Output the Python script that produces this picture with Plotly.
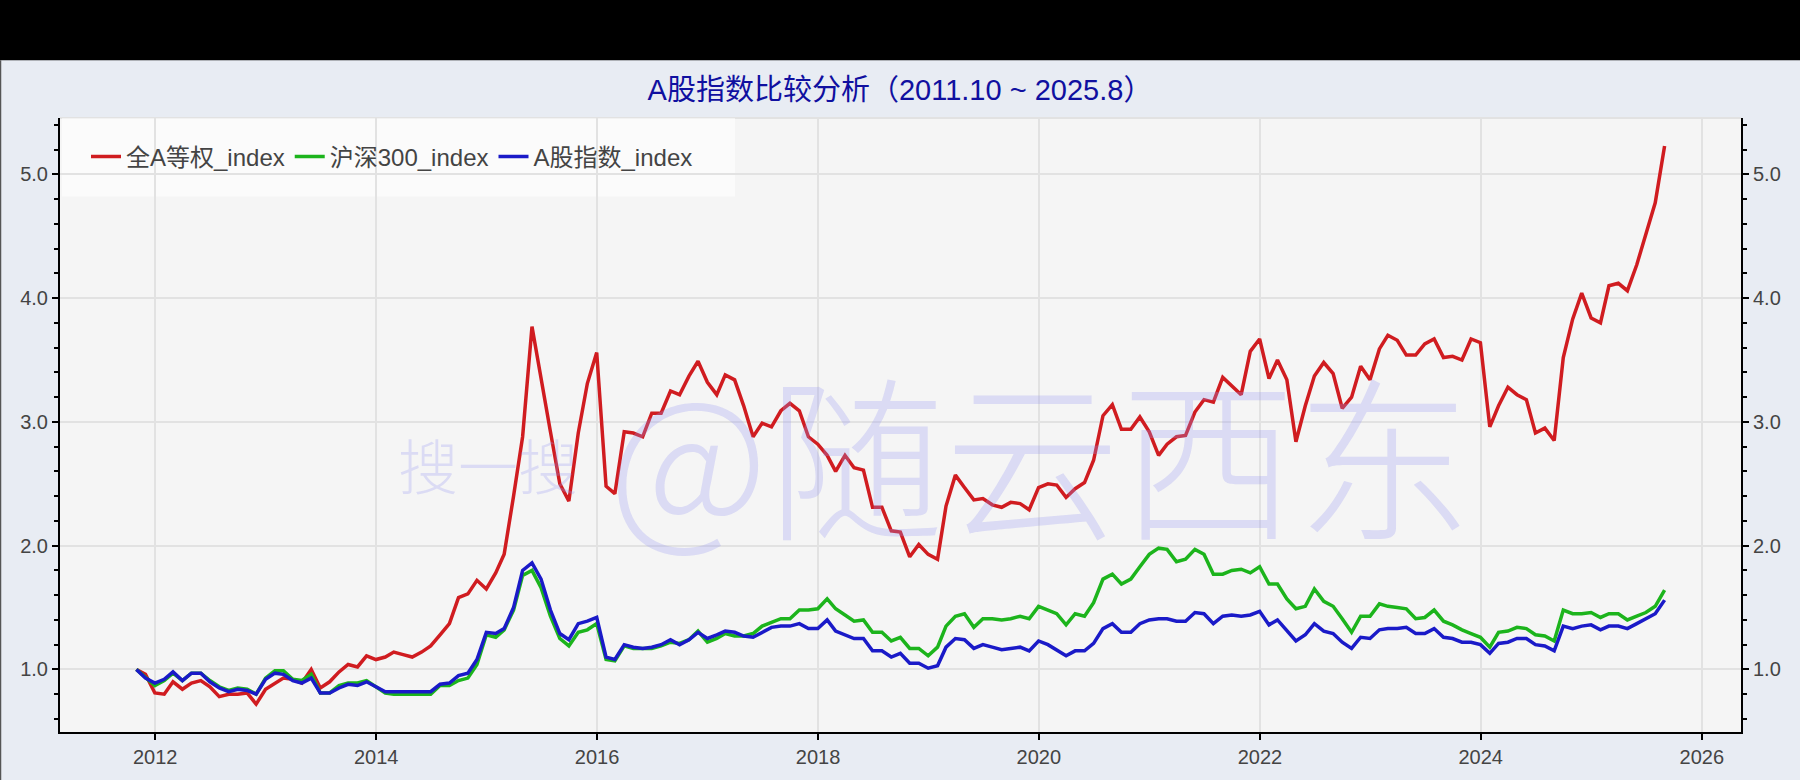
import pandas as pd
import plotly.graph_objects as go

# ---------------- data (monthly, 2011-10 .. 2025-08, normalised to 1.0) ----------------
start_month = "2011-10-31"
series_names = ["全A等权_index", "沪深300_index", "A股指数_index"]

quan_a = [
    1.00, 0.96, 0.81, 0.80, 0.90, 0.84, 0.89, 0.91, 0.86, 0.78, 0.80, 0.80,
    0.81, 0.72, 0.84, 0.89, 0.93, 0.92, 0.89, 1.00, 0.85, 0.90, 0.98, 1.04,
    1.02, 1.11, 1.08, 1.10, 1.14, 1.12, 1.10, 1.14, 1.19, 1.28, 1.37, 1.58,
    1.61, 1.72, 1.65, 1.78, 1.93, 2.40, 2.88, 3.77, 3.34, 2.92, 2.50, 2.36,
    2.91, 3.31, 3.56, 2.48, 2.42, 2.92, 2.91, 2.88, 3.07, 3.07, 3.25, 3.22,
    3.37, 3.49, 3.32, 3.22, 3.38, 3.34, 3.13, 2.88, 2.99, 2.96, 3.09, 3.15,
    3.09, 2.88, 2.82, 2.73, 2.60, 2.73, 2.63, 2.61, 2.31, 2.31, 2.12, 2.11,
    1.91, 2.01, 1.93, 1.89, 2.32, 2.57, 2.47, 2.37, 2.38, 2.33, 2.31, 2.35,
    2.34, 2.29, 2.47, 2.50, 2.49, 2.39, 2.46, 2.51, 2.69, 3.05, 3.14, 2.94,
    2.94, 3.04, 2.92, 2.73, 2.82, 2.88, 2.89, 3.08, 3.18, 3.16, 3.36, 3.29,
    3.22, 3.57, 3.67, 3.35, 3.50, 3.34, 2.84, 3.13, 3.37, 3.48, 3.39, 3.11,
    3.20, 3.45, 3.34, 3.59, 3.70, 3.66, 3.54, 3.54, 3.63, 3.67, 3.52, 3.53,
    3.50, 3.67, 3.64, 2.96, 3.13, 3.28, 3.22, 3.18, 2.91, 2.95, 2.85, 3.52,
    3.83, 4.04, 3.84, 3.80, 4.10, 4.12, 4.06, 4.27, 4.52, 4.77, 5.23,
]

hs300 = [
    1.00, 0.94, 0.87, 0.91, 0.97, 0.91, 0.97, 0.97, 0.91, 0.86, 0.83, 0.85,
    0.84, 0.80, 0.93, 0.99, 0.99, 0.92, 0.91, 0.96, 0.81, 0.81, 0.87, 0.89,
    0.89, 0.91, 0.86, 0.81, 0.80, 0.80, 0.80, 0.80, 0.80, 0.87, 0.87, 0.91,
    0.93, 1.04, 1.28, 1.26, 1.32, 1.48, 1.76, 1.80, 1.66, 1.43, 1.25, 1.19,
    1.30, 1.32, 1.37, 1.08, 1.07, 1.19, 1.17, 1.17, 1.17, 1.19, 1.22, 1.21,
    1.24, 1.31, 1.22, 1.25, 1.29, 1.27, 1.27, 1.29, 1.35, 1.38, 1.41, 1.41,
    1.48, 1.48, 1.49, 1.57, 1.49, 1.44, 1.39, 1.40, 1.30, 1.30, 1.23, 1.26,
    1.17, 1.17, 1.11, 1.18, 1.35, 1.43, 1.45, 1.34, 1.41, 1.41, 1.40, 1.41,
    1.43, 1.41, 1.51, 1.48, 1.45, 1.36, 1.45, 1.43, 1.54, 1.73, 1.77, 1.69,
    1.73, 1.83, 1.93, 1.98, 1.97, 1.87, 1.89, 1.97, 1.93, 1.77, 1.77, 1.80,
    1.81, 1.78, 1.83, 1.69, 1.69, 1.57, 1.49, 1.51, 1.65, 1.55, 1.51, 1.41,
    1.30, 1.43, 1.43, 1.53, 1.51, 1.50, 1.49, 1.41, 1.42, 1.48, 1.39, 1.36,
    1.32, 1.29, 1.26, 1.18, 1.30, 1.31, 1.34, 1.33, 1.28, 1.27, 1.23, 1.48,
    1.45, 1.45, 1.46, 1.42, 1.45, 1.45, 1.40, 1.43, 1.46, 1.51, 1.64,
]

a_share = [
    1.00, 0.93, 0.89, 0.92, 0.98, 0.91, 0.97, 0.97, 0.90, 0.85, 0.82, 0.84,
    0.83, 0.80, 0.92, 0.97, 0.96, 0.91, 0.89, 0.93, 0.81, 0.81, 0.85, 0.88,
    0.87, 0.90, 0.86, 0.82, 0.82, 0.82, 0.82, 0.82, 0.82, 0.88, 0.89, 0.95,
    0.97, 1.08, 1.30, 1.29, 1.33, 1.50, 1.80, 1.86, 1.73, 1.48, 1.29, 1.24,
    1.37, 1.39, 1.42, 1.10, 1.08, 1.20, 1.18, 1.17, 1.18, 1.20, 1.24, 1.20,
    1.24, 1.30, 1.25, 1.28, 1.31, 1.30, 1.27, 1.26, 1.30, 1.34, 1.35, 1.35,
    1.37, 1.33, 1.33, 1.40, 1.31, 1.28, 1.25, 1.25, 1.15, 1.15, 1.10, 1.13,
    1.05, 1.05, 1.01, 1.03, 1.18, 1.25, 1.24, 1.17, 1.20, 1.18, 1.16, 1.17,
    1.18, 1.15, 1.23, 1.20, 1.16, 1.11, 1.15, 1.15, 1.21, 1.33, 1.37, 1.30,
    1.30, 1.37, 1.40, 1.41, 1.41, 1.39, 1.39, 1.46, 1.45, 1.37, 1.43, 1.44,
    1.43, 1.44, 1.47, 1.36, 1.40, 1.31, 1.23, 1.28, 1.37, 1.31, 1.29, 1.22,
    1.17, 1.26, 1.25, 1.32, 1.33, 1.33, 1.34, 1.29, 1.29, 1.33, 1.26, 1.25,
    1.22, 1.22, 1.20, 1.13, 1.21, 1.22, 1.25, 1.25, 1.20, 1.19, 1.15, 1.35,
    1.33, 1.35, 1.36, 1.32, 1.35, 1.35, 1.33, 1.37, 1.41, 1.45, 1.56,
]

y_ticks = [1.0, 2.0, 3.0, 4.0, 5.0]
title_text = "A股指数比较分析（2011.10 ~ 2025.8）"
watermark_small = "搜一搜"
watermark_big = "@随云西东"

# ---------------- figure ----------------
try:
    dates = pd.date_range(start_month, periods=len(quan_a), freq="ME")
except ValueError:
    dates = pd.date_range(start_month, periods=len(quan_a), freq="M")

colors = ["#d01c20", "#1cb41c", "#1a1ac8"]
FONT = "Liberation Sans, Arial, Noto Sans CJK SC, sans-serif"

fig = go.Figure()
for name, vals, col in zip(series_names, [quan_a, hs300, a_share], colors):
    fig.add_trace(go.Scatter(x=dates, y=vals, mode="lines", name=name,
                             line=dict(color=col, width=3.5)))
# invisible trace to activate the right-hand axis
fig.add_trace(go.Scatter(x=dates, y=quan_a, mode="lines", yaxis="y2",
                         showlegend=False, hoverinfo="skip",
                         line=dict(color="rgba(0,0,0,0)", width=0)))

# ranges with 5% padding on each side
t0, t1 = dates[0], dates[-1]
span = t1 - t0
x_range = [t0 - span * 0.05, t1 + span * 0.05]
all_vals = quan_a + hs300 + a_share
vmin, vmax = min(all_vals), max(all_vals)
vpad = (vmax - vmin) * 0.05
y_range = [vmin - vpad, vmax + vpad]

W, H = 1800, 780
L, R, T, B = 60, 59, 118, 45
pw, ph = W - L - R, H - T - B


def px_x(p):
    return (p - L) / pw


def px_y(p):
    return 1 - (p - T) / ph


yaxis_common = dict(
    range=y_range, tickvals=y_ticks, tickformat=".1f",
    ticks="outside", ticklen=6, tickwidth=1.5, tickcolor="black",
    showline=True, linecolor="black", linewidth=2,
    tickfont=dict(family=FONT, size=20, color="#444444"),
    minor=dict(dtick=0.2, tick0=0, ticks="outside", ticklen=4,
               tickcolor="black", tickwidth=1.5, showgrid=False),
    zeroline=False,
)

fig.update_layout(
    width=W, height=H,
    margin=dict(l=L, r=R, t=T, b=B),
    paper_bgcolor="#e8ecf3",
    plot_bgcolor="#f5f5f5",
    title=dict(text=title_text, x=0.5, xanchor="center",
               y=1 - 90 / H, yanchor="middle",
               font=dict(family=FONT, size=29, color="#1010a0")),
    xaxis=dict(
        range=x_range, type="date", dtick="M24", tick0="2012-01-01",
        tickformat="%Y", ticks="outside", ticklen=6, tickwidth=1.5,
        tickcolor="black", showline=True, linecolor="black", linewidth=2,
        showgrid=True, gridcolor="#e2e2e2", gridwidth=1.5,
        tickfont=dict(family=FONT, size=20, color="#444444"),
        zeroline=False,
    ),
    yaxis=dict(showgrid=True, gridcolor="#e2e2e2", gridwidth=1.5, side="left",
               **yaxis_common),
    yaxis2=dict(overlaying="y", side="right", showgrid=False, **yaxis_common),
    legend=dict(orientation="h", x=px_x(86), xanchor="left",
                y=px_y(157), yanchor="middle",
                bgcolor="rgba(0,0,0,0)",
                font=dict(family=FONT, size=24, color="#444444"),
                itemwidth=30, tracegroupgap=0),
    showlegend=True,
)

shapes = [
    # black band across the top of the page
    dict(type="rect", xref="paper", yref="paper", x0=px_x(-20), x1=px_x(W + 20),
         y0=px_y(60), y1=px_y(-20), fillcolor="black", line=dict(width=0),
         layer="above"),
    # thin page frame on the left
    dict(type="line", xref="paper", yref="paper", x0=px_x(0.5), x1=px_x(0.5),
         y0=px_y(60), y1=px_y(H + 5), line=dict(color="#555555", width=1.5),
         layer="above"),
    # light plot outline on top
    dict(type="line", xref="paper", yref="paper", x0=0, x1=1, y0=1, y1=1,
         line=dict(color="#e2e2e2", width=2), layer="between"),
    # legend box
    dict(type="rect", xref="paper", yref="paper", x0=px_x(62), x1=px_x(735),
         y0=px_y(197), y1=1, fillcolor="rgba(255,255,255,0.55)",
         line=dict(width=0), layer="between"),
]
fig.update_layout(shapes=shapes)

wm_color = "rgba(150,150,240,0.28)"
fig.add_annotation(text=watermark_small, xref="paper", yref="paper",
                   x=px_x(488), y=px_y(465), xanchor="center", yanchor="middle",
                   showarrow=False,
                   font=dict(family="Noto Sans CJK SC", size=60, color=wm_color,
                             weight=300))
fig.add_annotation(text=watermark_big, xref="paper", yref="paper",
                   x=px_x(1040), y=px_y(452), xanchor="center", yanchor="middle",
                   showarrow=False,
                   font=dict(family="Noto Sans CJK SC", size=176, color=wm_color,
                             weight=300))

fig.write_html("out.html",
               config={"displayModeBar": False},
               post_script="document.body.style.margin='0';"
                           "document.body.style.overflow='hidden';")
